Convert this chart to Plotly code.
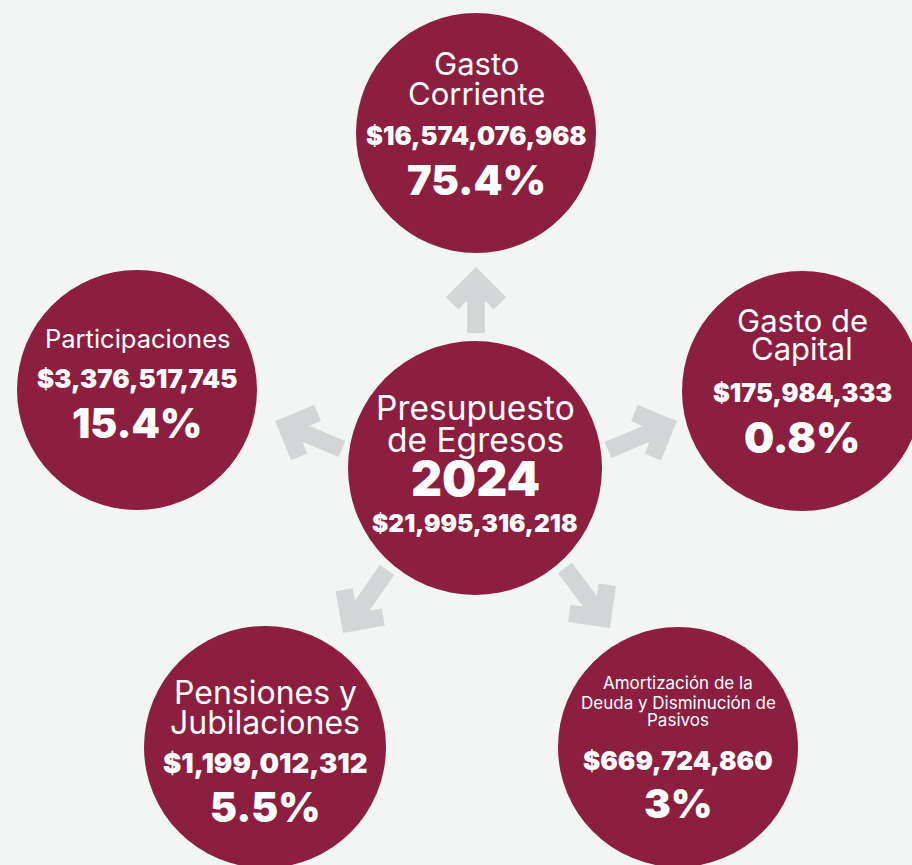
import plotly.graph_objects as go

# --- datos ---------------------------------------------------------------
CATEGORIES = [
    "Gasto Corriente",
    "Gasto de Capital",
    "Amortización de la Deuda y Disminución de Pasivos",
    "Pensiones y Jubilaciones",
    "Participaciones",
]
LABEL_LINES = [
    ["Gasto", "Corriente"],
    ["Gasto de", "Capital"],
    ["Amortización de la", "Deuda y Disminución de", "Pasivos"],
    ["Pensiones y", "Jubilaciones"],
    ["Participaciones"],
]
AMOUNTS = [16_574_076_968, 175_984_333, 669_724_860, 1_199_012_312, 3_376_517_745]
SHARES = [75.4, 0.8, 3, 5.5, 15.4]

HUB_LINES = ["Presupuesto", "de Egresos"]
YEAR = 2024
TOTAL = 21_995_316_218

# --- estilo / posiciones -------------------------------------------------
W, H = 912, 865
BG = "#f3f5f4"
WINE = "#8c1e40"
ARROW = "#d4d5d7"
FONT = "Inter, 'Open Sans', sans-serif"
HEAVY = 900

HUB = dict(x=475, y=468, r=127, title_y=[408, 440], title_size=33.5,
           year_y=478, year_size=48, total_y=523, total_size=24.5)

NODES = [
    dict(x=476, y=133, r=120, name_y=[63, 93], name_size=31,
         amount_y=135, amount_size=25.5, share_y=180, share_size=41.5,
         tail=(476, 333), tip=(476, 267)),
    dict(x=802, y=391, r=120, name_y=[320, 348], name_size=31,
         amount_y=392, amount_size=25.3, share_y=437, share_size=42.5,
         tail=(608, 450), tip=(677, 421)),
    dict(x=678, y=747, r=120, name_y=[683, 703, 720], name_size=17,
         amount_y=760, amount_size=26, share_y=803, share_size=40,
         tail=(565, 568), tip=(610, 628)),
    dict(x=265, y=747, r=121, name_y=[692, 722], name_size=32,
         amount_y=763, amount_size=27.5, share_y=807, share_size=40.5,
         tail=(387, 570), tip=(343, 633)),
    dict(x=137, y=390, r=120, name_y=[338], name_size=25.5,
         amount_y=378, amount_size=25.8, share_y=423, share_size=40.5,
         tail=(342, 449), tip=(275, 421)),
]


def money(v: int) -> str:
    return f"${v:,}"


def arrow_path(tail, tip, shaft=8.75, head=30, arm=17.5):
    """Flecha de bloque: asta + punta en chevrón (coordenadas en píxeles)."""
    tx, ty = tail
    px, py = tip
    dx, dy = px - tx, py - ty
    length = (dx * dx + dy * dy) ** 0.5
    ux, uy = dx / length, dy / length
    vx, vy = -uy, ux
    k = arm * 2 ** 0.5
    d = arm / 2 ** 0.5
    local = [
        (0, 0),
        (-head, head),
        (-head - d, head - d),
        (-k - shaft, shaft),
        (-length, shaft),
        (-length, -shaft),
        (-k - shaft, -shaft),
        (-head - d, -head + d),
        (-head, -head),
    ]
    pts = [(px + u * ux + v * vx, py + u * uy + v * vy) for u, v in local]
    return "M " + " L ".join(f"{x:.1f},{y:.1f}" for x, y in pts) + " Z"


fig = go.Figure()

shapes = []
for node in NODES:
    shapes.append(dict(type="path", path=arrow_path(node["tail"], node["tip"]),
                       fillcolor=ARROW, line=dict(width=0), layer="above"))
for c in [HUB] + NODES:
    shapes.append(dict(type="circle", x0=c["x"] - c["r"], x1=c["x"] + c["r"],
                       y0=c["y"] - c["r"], y1=c["y"] + c["r"],
                       fillcolor=WINE, line=dict(width=0), layer="above"))


def text(x, y, s, size, weight=400):
    fig.add_annotation(x=x, y=y, text=s, showarrow=False, xanchor="center",
                       yanchor="middle",
                       font=dict(family=FONT, size=size, color="white", weight=weight))


for node, lines, amount, share in zip(NODES, LABEL_LINES, AMOUNTS, SHARES):
    for line, ly in zip(lines, node["name_y"]):
        text(node["x"], ly, line, node["name_size"])
    text(node["x"], node["amount_y"], money(amount), node["amount_size"], HEAVY)
    text(node["x"], node["share_y"], f"{share:g}%", node["share_size"], HEAVY)

for line, ly in zip(HUB_LINES, HUB["title_y"]):
    text(HUB["x"], ly, line, HUB["title_size"])
text(HUB["x"], HUB["year_y"], str(YEAR), HUB["year_size"], HEAVY)
text(HUB["x"], HUB["total_y"], money(TOTAL), HUB["total_size"], HEAVY)

fig.update_layout(
    width=W, height=H,
    margin=dict(l=0, r=0, t=0, b=0),
    paper_bgcolor=BG, plot_bgcolor=BG,
    shapes=shapes,
    showlegend=False,
    xaxis=dict(range=[0, W], visible=False, fixedrange=True),
    yaxis=dict(range=[H, 0], visible=False, fixedrange=True),
)
fig.write_html(
    "out.html",
    config=dict(displayModeBar=False),
    post_script="document.body.style.margin='0';"
                "document.documentElement.style.overflow='hidden';",
)
